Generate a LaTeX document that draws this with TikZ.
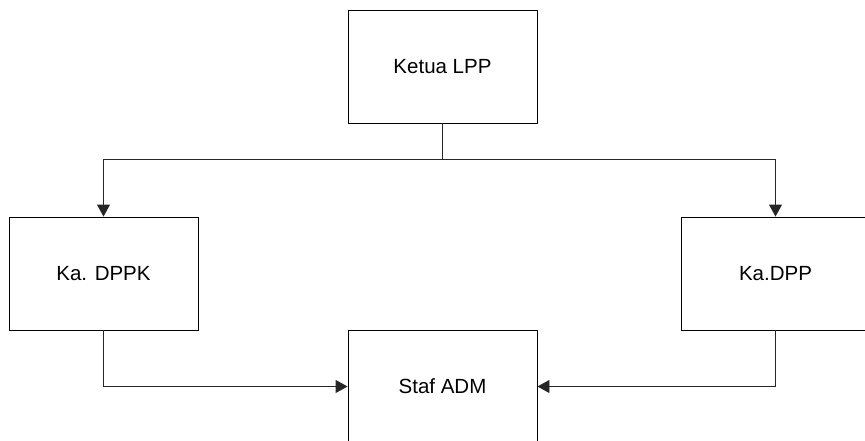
\documentclass[tikz,border=0pt]{standalone}
\usepackage{fontspec}
\setmainfont{Liberation Sans}
\usetikzlibrary{arrows.meta}
\begin{document}
\begin{tikzpicture}[x=1pt,y=-1pt,
  box/.style={draw=black,line width=0.9pt,fill=white,rectangle,minimum width=189pt,minimum height=113pt,inner sep=0pt,font=\fontsize{20.5}{24}\selectfont},
  conn/.style={draw=black!85,line width=0.9pt},
  arr/.style={conn,-{Triangle[length=12pt,width=13pt]}}]
\useasboundingbox (0,0) rectangle (865,440);
\begin{scope}
\clip (0,0) rectangle (865,440);
\node[box] (ketua) at (442.5,66.5) {Ketua LPP};
\node[box] (dppk) at (103.5,273.5) {Ka. DPPK};
\node[box] (dpp) at (775.5,273.5) {Ka.DPP};
\node[box] (staf) at (442.5,386.5) {Staf ADM};
\coordinate (j) at (442.5,159);
\draw[conn] (ketua.south) -- (j);
\draw[arr] (j) -| (dppk.north);
\draw[arr] (j) -| (dpp.north);
\draw[arr] (dppk.south) |- (staf.west);
\draw[arr] (dpp.south) |- (staf.east);
\end{scope}
\end{tikzpicture}
\end{document}
